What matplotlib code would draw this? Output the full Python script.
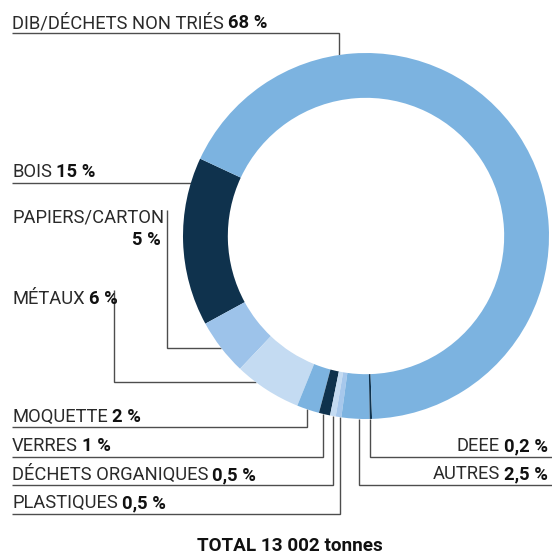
import matplotlib
matplotlib.use('Agg')
import matplotlib.pyplot as plt
import numpy as np

# ---- data ----
categories = ['BOIS', 'PAPIERS/CARTON', 'MÉTAUX', 'MOQUETTE', 'VERRES',
              'DÉCHETS ORGANIQUES', 'PLASTIQUES', 'AUTRES', 'DEEE',
              'DIB/DÉCHETS NON TRIÉS']
values = [15, 5, 6, 2, 1, 0.5, 0.5, 2.5, 0.2, 68]
value_labels = ['15 %', '5 %', '6 %', '2 %', '1 %', '0,5 %', '0,5 %',
                '2,5 %', '0,2 %', '68 %']
colors = ['#0f324d', '#9dc3ea', '#c4dbf2', '#7cb3e0', '#0f324d',
          '#c4dbf2', '#a7c8ec', '#7cb3e0', '#0f324d', '#7cb3e0']
total_label = 'TOTAL 13 002 tonnes'

W, H = 552, 556
plt.rcParams['font.family'] = ['Roboto', 'DejaVu Sans']
fig = plt.figure(figsize=(W / 100, H / 100), dpi=100)
fig.patch.set_facecolor('white')

# overlay axes in pixel coordinates (y down)
ov = fig.add_axes([0, 0, 1, 1])
ov.set_xlim(0, W)
ov.set_ylim(H, 0)
ov.axis('off')

cx, cy, R = 366, 236, 183
ax = fig.add_axes([(cx - R) / W, (H - cy - R) / H, 2 * R / W, 2 * R / H])
ax.pie(values, colors=colors, startangle=155, counterclock=True, radius=1,
       normalize=True, wedgeprops=dict(width=0.245, linewidth=0))
ax.set_xlim(-1, 1)
ax.set_ylim(-1, 1)
ax.set_aspect('equal')
ax.axis('off')

LC = '#4d4d4d'
LW = 1.0


def ring_y_top(x):
    return cy - np.sqrt(R ** 2 - (x - cx) ** 2)


def ring_y_bot(x):
    return cy + np.sqrt(R ** 2 - (x - cx) ** 2)


def ring_x_left(y):
    return cx - np.sqrt(R ** 2 - (y - cy) ** 2)


def line(xs, ys):
    ov.plot(xs, ys, color=LC, lw=LW, solid_capstyle='butt', solid_joinstyle='miter')


fig.canvas.draw()
rend = fig.canvas.get_renderer()

FS = 13.2
TC = '#2a2a2a'
BC = '#111111'


def label(x, y, reg, bold, ha='left', fs=FS):
    gap = fs * 0.3
    if ha == 'left':
        t = ov.text(x, y, reg, fontsize=fs, color=TC, va='baseline', ha='left')
        bb = t.get_window_extent(rend)
        ov.text(bb.x1 + gap, y, bold, fontsize=fs, color=BC,
                fontweight='bold', va='baseline', ha='left')
    else:
        t = ov.text(x, y, bold, fontsize=fs, color=BC, fontweight='bold',
                    va='baseline', ha='right')
        bb = t.get_window_extent(rend)
        ov.text(bb.x0 - gap, y, reg, fontsize=fs, color=TC, va='baseline', ha='right')


# DIB
label(12, 28, categories[9], value_labels[9])
line([12, 339, 339], [33, 33, ring_y_top(339)])
# BOIS
label(12, 177, categories[0], value_labels[0])
line([12, ring_x_left(183)], [183, 183])
# PAPIERS / CARTON
ov.text(12, 223, categories[1], fontsize=FS, color=TC, va='baseline')
ov.text(161, 245, value_labels[1], fontsize=FS, color=BC,
        fontweight='bold', va='baseline', ha='right')
line([167, 167, ring_x_left(348)], [210, 348, 348])
# METAUX
label(12, 304, categories[2], value_labels[2])
line([114, 114, ring_x_left(382)], [290, 382, 382])
# bottom left labels
bl = [(3, 422, 427, 307), (4, 451, 457, 323), (5, 480, 485, 333), (6, 508, 514, 340)]
for i, yb, yl, xv in bl:
    label(12, yb, categories[i], value_labels[i])
    line([12, xv, xv], [yl, yl, ring_y_bot(xv)])
# right labels
br = [(8, 451, 457, 370), (7, 479, 485, 359)]
for i, yb, yl, xv in br:
    label(548, yb, categories[i], value_labels[i], ha='right')
    line([W, xv, xv], [yl, yl, ring_y_bot(xv)])

ov.text(290, 551, total_label, fontsize=13.6, fontweight='bold', color=BC,
        ha='center', va='baseline')

fig.savefig('out.png', dpi=100, facecolor='white')
